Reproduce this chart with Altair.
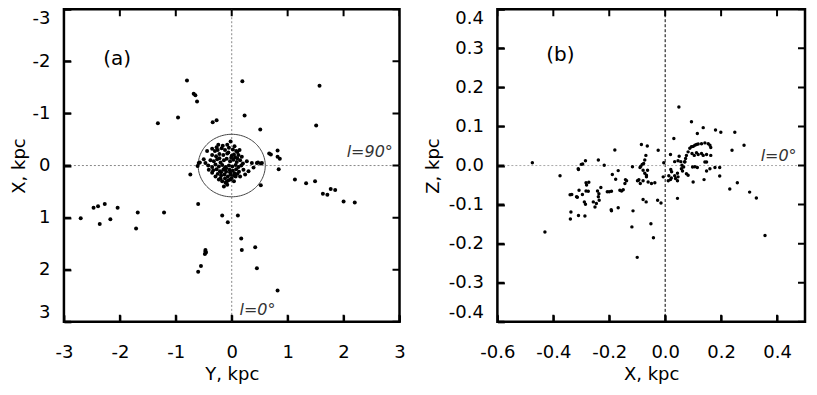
import altair as alt
import pandas as pd
import numpy as np

# ---------------- panel (a): Y (horizontal) vs X (vertical, reversed) -----------------
ya = [-0.80, 0.19, 1.57, -0.68, -0.65, -0.62, -1.32, -0.96, -0.34, -0.27, 0.23, 0.51, 1.51, -0.02,
      0.67, 0.70, 0.82, 0.82, 0.86, 0.84, -0.74, 1.13, 1.33, 1.49, 0.47, 0.52, -0.57, 0.52, 1.63,
      1.71, 1.77, 1.85, 2.00, 2.20, -2.70, -2.47, -2.39, -2.27, -2.36, -2.17, -2.04, -1.71, -1.68,
      -1.21, -0.60, -0.17, -0.07, 0.11, 0.17, 0.18, 0.42, 0.45, 0.82, -0.47, -0.46, -0.48, -0.47,
      -0.55, -0.60,
      # central clump
      -0.24, -0.35, -0.44, -0.50, -0.59, -0.61, -0.47, -0.41, -0.35, -0.29, -0.23, -0.17, -0.11,
      -0.08, -0.14, 0.04, 0.10, 0.27, 0.36, 0.45, 0.54, 0.21, 0.30, 0.39, 0.15, 0.24, 0.07, -0.02,
      0.04,
      -0.30, -0.25, -0.18, -0.12, -0.05, 0.02, 0.08, 0.14,
      -0.35, -0.28, -0.22, -0.15, -0.08, 0.00, 0.06, 0.12, 0.18,
      -0.38, -0.32, -0.26, -0.20, -0.14, -0.09, -0.03, 0.03, 0.09, 0.15, 0.20,
      -0.42, -0.35, -0.29, -0.23, -0.17, -0.11, -0.05, 0.01, 0.07, 0.12, 0.17,
      -0.33, -0.27, -0.21, -0.15, -0.10, -0.04, 0.02, 0.08, 0.13,
      -0.25, -0.19, -0.13, -0.07, -0.02, 0.04, 0.10,
      -0.20, -0.12, -0.06, 0.00,
      -0.16, -0.08, 0.05, -0.27,
      -0.10, -0.01, -0.19, 0.05, -0.06, -0.13, -0.03, 0.10, -0.22, -0.09]
xa = [-1.63, -1.62, -1.53, -1.38, -1.35, -1.23, -0.81, -0.92, -0.83, -0.87, -0.96, -0.69, -0.77, -0.46,
      -0.23, -0.21, -0.29, -0.17, -0.13, 0.07, 0.17, 0.27, 0.34, 0.30, -0.06, -0.04, -0.06, 0.38, 0.54,
      0.56, 0.45, 0.47, 0.69, 0.71, 1.01, 0.81, 0.78, 0.74, 1.12, 1.03, 0.81, 1.21, 0.90,
      0.90, 0.74, 0.96, 1.09, 0.96, 1.40, 1.62, 1.57, 1.97, 2.40, 1.62, 1.67, 1.70, 1.65,
      1.93, 2.04,
      -0.40, -0.32, -0.28, -0.12, -0.05, 0.01, -0.05, 0.08, 0.14, 0.21, 0.27, 0.30, 0.33,
      0.37, 0.40, -0.21, -0.26, -0.08, -0.05, -0.05, -0.05, 0.08, 0.11, 0.04, 0.21, 0.17, 0.21, 0.27,
      0.30,
      -0.28, -0.30, -0.33, -0.30, -0.34, -0.31, -0.28, -0.30,
      -0.20, -0.18, -0.22, -0.20, -0.23, -0.19, -0.16, -0.20, -0.17,
      -0.10, -0.08, -0.12, -0.06, -0.10, -0.13, -0.08, -0.11, -0.07, -0.10, -0.04,
      0.00, 0.03, -0.02, 0.02, -0.01, 0.03, 0.00, 0.02, -0.01, 0.03, 0.00,
      0.09, 0.07, 0.11, 0.08, 0.12, 0.08, 0.10, 0.07, 0.12,
      0.16, 0.19, 0.17, 0.21, 0.17, 0.19, 0.16,
      0.25, 0.25, 0.28, 0.24,
      -0.38, -0.40, -0.37, -0.35,
      0.05, -0.15, 0.13, 0.15, -0.25, 0.05, 0.13, -0.14, -0.14, 0.31]

# ---------------- panel (b): X (horizontal) vs Z (vertical) -----------------
xb = [-0.475, -0.43, -0.376, -0.34, -0.337, -0.339, -0.31, -0.314, -0.31, -0.30, -0.295, -0.285, -0.296,
      -0.289, -0.285, -0.287, -0.281, -0.273, -0.283, -0.239, -0.242, -0.237, -0.236, -0.239, -0.23,
      -0.257, -0.251, -0.246, -0.218, -0.207, -0.2, -0.192, -0.193, -0.192, -0.189, -0.18, -0.177,
      -0.168, -0.168, -0.162, -0.156, -0.15, -0.144, -0.138, -0.142, -0.115, -0.119, -0.117, -0.099,
      -0.094, -0.089, -0.087, -0.082, -0.077, -0.085, -0.064, -0.069, -0.073, -0.079, -0.068, -0.073,
      -0.067, -0.063, 0.049, -0.025, -0.09, -0.079, -0.067, -0.096, -0.079, -0.061, -0.049, -0.037,
      -0.027, -0.015, -0.051, -0.042, -0.005, -0.007, 0.011, 0.019, 0.023, 0.02, 0.019, 0.031, 0.037,
      0.044, 0.046, 0.044, 0.050, 0.056, 0.060, 0.058, 0.062, 0.07, 0.066, 0.073, 0.076, 0.076, 0.082,
      0.082, 0.088, 0.094, 0.1, 0.106, 0.112, 0.118, 0.13, 0.142, 0.154, 0.16, 0.163, 0.094, 0.096,
      0.104, 0.112, 0.118, 0.13, 0.136, 0.148, 0.163, 0.115, 0.136, 0.1, 0.106, 0.115, 0.139, 0.142,
      0.148, 0.148, 0.16, 0.178, 0.195, 0.195, 0.18, 0.199, 0.239, 0.249, 0.282, 0.231, 0.258, 0.302,
      0.326, 0.357, -0.1, -0.283, -0.275, -0.317, -0.334, -0.308, -0.311, 0.013, 0.022, 0.034, 0.044,
      0.034, 0.046, 0.07, 0.098]
zb = [0.007, -0.17, -0.026, -0.075, -0.119, -0.137, -0.01, -0.081, -0.128, 0.003, 0.004, 0.012, -0.074,
      -0.093, -0.099, -0.129, -0.05, -0.043, -0.065, 0.014, -0.065, -0.072, -0.089, -0.08, -0.056,
      -0.093, -0.106, -0.097, 0.001, -0.067, -0.067, -0.066, -0.113, -0.116, -0.023, 0.04, -0.035,
      -0.013, -0.108, -0.063, -0.065, -0.062, -0.046, -0.039, -0.036, -0.116, -0.157, -0.003, -0.039,
      -0.036, -0.046, -0.002, 0.003, 0.005, 0.054, 0.05, 0.026, 0.014, -0.087, -0.093, -0.02,
      -0.025, -0.012, 0.15, 0.039, -0.005, -0.012, -0.029, -0.038, -0.039, -0.042, -0.046, -0.044,
      -0.089, -0.096, -0.149, -0.185, 0.007, -0.029, -0.039, -0.036, -0.016, -0.01, 0.028, 0.069, -0.033,
      -0.039, -0.029, -0.084, 0.024, 0.010, 0.001, -0.008, -0.014, 0.009, -0.004, 0.018, 0.026, -0.021, -0.025,
      0.035, 0.044, 0.048, 0.049, 0.052, 0.054, 0.055, 0.056, 0.058, 0.056, 0.052, 0.046, 0.112, 0.031,
      0.026, 0.033, 0.028, 0.031, 0.026, 0.028, 0.026, 0.082, 0.097, -0.042, -0.003, -0.005, -0.036, 0.009,
      0.009, -0.014, -0.008, -0.005, -0.005, -0.027, 0.091, 0.085, 0.039, 0.085, 0.052, -0.06, -0.044, -0.068,
      -0.083, -0.179, -0.235, -0.044, -0.066, -0.08, -0.074, -0.063, -0.008, -0.026, -0.032, -0.026, -0.02,
      0.01, 0.012, 0.01, -0.004]

circle_radius = 0.6  # kpc, circle drawn round the Sun in panel (a)

ticks_a = [-3, -2, -1, 0, 1, 2, 3]
ticks_bx = [-0.6, -0.4, -0.2, 0, 0.2, 0.4]
ticks_bz = [-0.4, -0.3, -0.2, -0.1, 0, 0.1, 0.2, 0.3, 0.4]
dom_a = [-3, 3]
dom_bx = [-0.6, 0.5]
dom_bz = [-0.4, 0.4]

FONT = "DejaVu Sans"
LS = 18
TS = 18
W_A, W_B, H = 336, 313, 313
W_B = 308
TK = 7

HYPHEN = "replace(datum.label, '\u2212', '-')"


def ax(orient, title, values, lpad, tpad, flush=False):
    return alt.Axis(orient=orient, offset=-TK, tickSize=TK, tickWidth=2, tickColor="black",
                    domain=False, grid=False, values=values,
                    labelPadding=lpad, labelFont=FONT, labelFontSize=LS, labelColor="black",
                    labelFlush=flush, labelExpr=HYPHEN,
                    title=title, titleFont=FONT, titleFontSize=TS, titleFontWeight="normal",
                    titleColor="black", titlePadding=tpad)


def inner_ticks(xt, yt, sx, sy, xdom, ydom):
    """Tick marks centred on the frame edges; clipping keeps the inner half only."""
    dv = pd.DataFrame({"t": list(xt) * 2, "e": [ydom[0]] * len(xt) + [ydom[1]] * len(xt)})
    dh = pd.DataFrame({"t": list(yt) * 2, "e": [xdom[0]] * len(yt) + [xdom[1]] * len(yt)})
    vt = alt.Chart(dv).mark_tick(orient="vertical", size=2 * TK, thickness=2, color="black",
                                 opacity=1, clip=True).encode(
        x=alt.X("t:Q", scale=sx, axis=None), y=alt.Y("e:Q", scale=sy, axis=None))
    ht = alt.Chart(dh).mark_tick(orient="horizontal", size=2 * TK, thickness=2, color="black",
                                 opacity=1, clip=True).encode(
        y=alt.Y("t:Q", scale=sy, axis=None), x=alt.X("e:Q", scale=sx, axis=None))
    return [vt, ht]


zero = pd.DataFrame({"v": [0]})

# ---- panel (a)
sxa = alt.Scale(domain=dom_a, nice=False, zero=False)
sya = alt.Scale(domain=dom_a, nice=False, zero=False, reverse=True)
df_a = pd.DataFrame({"Y": ya, "X": xa})

pts_a = alt.Chart(df_a).mark_circle(size=16, color="black", opacity=1).encode(
    x=alt.X("Y:Q", scale=sxa, axis=ax("bottom", "Y, kpc", ticks_a, 22, 4)),
    y=alt.Y("X:Q", scale=sya, axis=ax("left", "X, kpc", ticks_a, 14, 4, flush=True)),
)
vline_a = alt.Chart(zero).mark_rule(color="#888", strokeDash=[2, 2], strokeWidth=1).encode(
    x=alt.X("v:Q", scale=sxa, axis=None))
hline_a = alt.Chart(zero).mark_rule(color="#888", strokeDash=[2, 2], strokeWidth=1).encode(
    y=alt.Y("v:Q", scale=sya, axis=None))
ang = np.linspace(0, 2 * np.pi, 121)
circ = pd.DataFrame({"cx": circle_radius * np.cos(ang), "cy": circle_radius * np.sin(ang),
                     "o": np.arange(len(ang))})
circle_a = alt.Chart(circ).mark_line(color="#444", strokeWidth=1).encode(
    x=alt.X("cx:Q", scale=sxa, axis=None), y=alt.Y("cy:Q", scale=sya, axis=None), order="o:Q")
lab_a = pd.DataFrame({"x": [-2.05], "y": [-2.05], "t": ["(a)"]})
txt_a = alt.Chart(lab_a).mark_text(font=FONT, fontSize=20, color="black", align="center",
                                   baseline="middle").encode(
    x=alt.X("x:Q", scale=sxa, axis=None), y=alt.Y("y:Q", scale=sya, axis=None), text="t:N")
ann_a = pd.DataFrame({"x": [2.88], "y": [-0.16], "t": ["l=90°"]})
ann_a_t = alt.Chart(ann_a).mark_text(font=FONT, fontSize=16, fontStyle="italic", color="#333",
                                     align="right", baseline="alphabetic").encode(
    x=alt.X("x:Q", scale=sxa, axis=None), y=alt.Y("y:Q", scale=sya, axis=None), text="t:N")
ann_a2 = pd.DataFrame({"x": [0.14], "y": [2.86], "t": ["l=0°"]})
ann_a2_t = alt.Chart(ann_a2).mark_text(font=FONT, fontSize=16, fontStyle="italic", color="#333",
                                       align="left", baseline="alphabetic").encode(
    x=alt.X("x:Q", scale=sxa, axis=None), y=alt.Y("y:Q", scale=sya, axis=None), text="t:N")

panel_a = alt.layer(vline_a, hline_a, circle_a, pts_a, txt_a, ann_a_t, ann_a2_t,
                    *inner_ticks(ticks_a, ticks_a, sxa, sya, dom_a, dom_a)).resolve_axis(
    x="independent", y="independent").properties(width=W_A, height=H)

# ---- panel (b)
sxb = alt.Scale(domain=dom_bx, nice=False, zero=False)
syb = alt.Scale(domain=dom_bz, nice=False, zero=False)
df_b = pd.DataFrame({"X": xb, "Z": zb})

pts_b = alt.Chart(df_b).mark_circle(size=12, color="black", opacity=1).encode(
    x=alt.X("X:Q", scale=sxb, axis=ax("bottom", "X, kpc", ticks_bx, 22, 4)),
    y=alt.Y("Z:Q", scale=syb, axis=ax("left", "Z, kpc", ticks_bz, 14, 6, flush=True)),
)
vline_b = alt.Chart(zero).mark_rule(color="black", strokeDash=[3, 2], strokeWidth=1).encode(
    x=alt.X("v:Q", scale=sxb, axis=None))
hline_b = alt.Chart(zero).mark_rule(color="#aaa", strokeDash=[2, 2], strokeWidth=1).encode(
    y=alt.Y("v:Q", scale=syb, axis=None))
lab_b = pd.DataFrame({"x": [-0.375], "y": [0.282], "t": ["(b)"]})
txt_b = alt.Chart(lab_b).mark_text(font=FONT, fontSize=20, color="black", align="center",
                                   baseline="middle").encode(
    x=alt.X("x:Q", scale=sxb, axis=None), y=alt.Y("y:Q", scale=syb, axis=None), text="t:N")
ann_b = pd.DataFrame({"x": [0.47], "y": [0.012], "t": ["l=0°"]})
ann_b_t = alt.Chart(ann_b).mark_text(font=FONT, fontSize=16, fontStyle="italic", color="#333",
                                     align="right", baseline="alphabetic").encode(
    x=alt.X("x:Q", scale=sxb, axis=None), y=alt.Y("y:Q", scale=syb, axis=None), text="t:N")

panel_b = alt.layer(vline_b, hline_b, pts_b, txt_b, ann_b_t,
                    *inner_ticks(ticks_bx, ticks_bz, sxb, syb, dom_bx, dom_bz)).resolve_axis(
    x="independent", y="independent").properties(width=W_B, height=H)

chart = alt.hconcat(panel_a, panel_b, spacing=98, bounds="flush", background="white",
                    padding={"left": 0, "top": -2, "right": 2, "bottom": 0}).configure_view(
    stroke="black", strokeWidth=2.5)

chart.save("out.html", embed_options={"renderer": "svg", "actions": False})
